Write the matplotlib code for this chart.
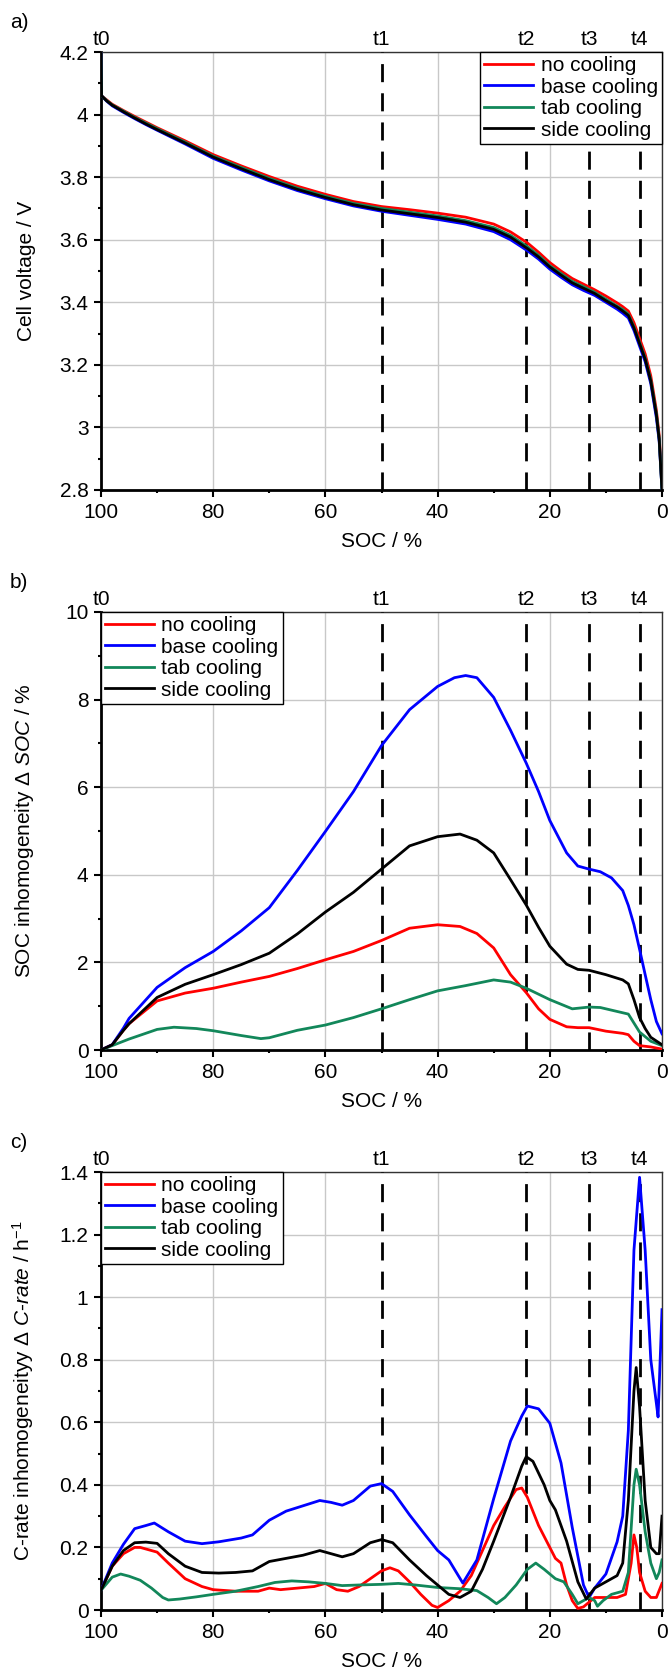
import matplotlib
matplotlib.use("Agg")
import matplotlib.pyplot as plt
from matplotlib.ticker import MultipleLocator, FuncFormatter

plt.rcParams['font.family'] = ['Liberation Sans', 'DejaVu Sans']
plt.rcParams['mathtext.fontset'] = 'custom'
plt.rcParams['mathtext.rm'] = 'Liberation Sans'
plt.rcParams['mathtext.it'] = 'Liberation Sans:italic'
plt.rcParams['mathtext.bf'] = 'Liberation Sans:bold'

# ---------------- data ----------------
series_names = ["no cooling", "base cooling", "tab cooling", "side cooling"]
series_colors = ["#ff0000", "#0000ff", "#12875a", "#000000"]

t_labels = ["t0", "t1", "t2", "t3", "t4"]
t_soc = [100, 50, 24.2, 13, 4]

# panel a: cell voltage
soc_a = [100, 99.9, 99, 98, 96, 94, 92, 90, 85, 80, 75, 70, 65, 60, 55, 50, 45, 40,
         35, 30, 27, 24, 22, 20, 18, 16, 14, 12, 10, 8, 7, 6, 5, 4, 3, 2, 1, 0.5, 0]
v_no = [4.20, 4.06, 4.047, 4.033, 4.013, 3.994, 3.976, 3.958, 3.916, 3.872, 3.836, 3.802,
        3.771, 3.745, 3.722, 3.706, 3.696, 3.685, 3.672, 3.650, 3.625, 3.590, 3.560, 3.527,
        3.500, 3.476, 3.458, 3.440, 3.420, 3.398, 3.386, 3.372, 3.335, 3.285, 3.235, 3.165,
        3.055, 2.975, 2.81]
v_base = [4.20, 4.06, 4.043, 4.028, 4.007, 3.987, 3.968, 3.950, 3.906, 3.860, 3.823, 3.788,
          3.757, 3.731, 3.708, 3.691, 3.678, 3.665, 3.650, 3.626, 3.600, 3.565, 3.538, 3.506,
          3.480, 3.456, 3.438, 3.422, 3.400, 3.378, 3.365, 3.350, 3.310, 3.260, 3.210, 3.140,
          3.030, 2.955, 2.80]
v_tab = [4.20, 4.06, 4.045, 4.031, 4.011, 3.991, 3.973, 3.955, 3.912, 3.867, 3.831, 3.796,
         3.765, 3.739, 3.716, 3.700, 3.688, 3.676, 3.661, 3.639, 3.614, 3.578, 3.550, 3.517,
         3.492, 3.467, 3.450, 3.432, 3.410, 3.388, 3.377, 3.362, 3.322, 3.272, 3.222, 3.152,
         3.045, 2.965, 2.80]
v_side = [4.20, 4.06, 4.044, 4.030, 4.009, 3.989, 3.970, 3.952, 3.909, 3.864, 3.827, 3.792,
          3.761, 3.735, 3.712, 3.695, 3.683, 3.671, 3.656, 3.633, 3.608, 3.572, 3.545, 3.513,
          3.487, 3.462, 3.445, 3.428, 3.405, 3.385, 3.372, 3.358, 3.318, 3.268, 3.218, 3.148,
          3.040, 2.962, 2.80]

# panel b: SOC inhomogeneity
soc_b_no = [100, 98, 96, 95, 90, 85, 80, 75, 70, 65, 60, 55, 50, 45, 40, 36, 33, 30, 27,
            24.2, 22, 20, 17, 15, 13, 10, 7, 6, 5, 4, 2, 0]
dsoc_no = [0, 0.12, 0.45, 0.6, 1.12, 1.3, 1.41, 1.55, 1.68, 1.86, 2.06, 2.25, 2.5, 2.78,
           2.86, 2.82, 2.66, 2.33, 1.72, 1.31, 0.94, 0.70, 0.53, 0.51, 0.51, 0.43, 0.38,
           0.35, 0.2, 0.1, 0.07, 0.02]
soc_b_base = [100, 98, 96, 95, 90, 85, 80, 75, 70, 65, 60, 55, 50, 45, 40, 37, 35, 33, 30,
              27, 24.2, 22, 20, 17, 15, 13, 11, 9, 7, 6, 5, 4, 3, 2, 1, 0]
dsoc_base = [0, 0.12, 0.5, 0.72, 1.43, 1.88, 2.25, 2.72, 3.25, 4.1, 4.99, 5.9, 6.95, 7.77,
             8.3, 8.5, 8.55, 8.5, 8.05, 7.3, 6.55, 5.9, 5.24, 4.5, 4.2, 4.13, 4.07, 3.93,
             3.64, 3.3, 2.86, 2.3, 1.72, 1.15, 0.65, 0.37]
soc_b_tab = [100, 95, 90, 87, 83, 80, 75, 71.5, 70, 65, 60, 55, 50, 45, 40, 35, 30, 27,
             24.2, 20, 16, 13, 11, 8, 6, 4, 2, 0]
dsoc_tab = [0, 0.25, 0.47, 0.52, 0.49, 0.44, 0.33, 0.26, 0.28, 0.45, 0.57, 0.74, 0.94, 1.15,
            1.35, 1.47, 1.6, 1.55, 1.41, 1.15, 0.94, 0.98, 0.97, 0.88, 0.82, 0.41, 0.2, 0.1]
soc_b_side = [100, 98, 96, 95, 90, 85, 80, 75, 70, 65, 60, 55, 50, 45, 40, 36, 33, 30, 27,
              24.2, 22, 20, 17, 15, 13, 10, 7, 6, 5, 4, 3, 2, 0]
dsoc_side = [0, 0.12, 0.45, 0.6, 1.2, 1.5, 1.72, 1.95, 2.21, 2.65, 3.15, 3.6, 4.13, 4.66,
             4.87, 4.93, 4.79, 4.5, 3.89, 3.31, 2.8, 2.37, 1.96, 1.84, 1.82, 1.72, 1.6, 1.51,
             1.15, 0.74, 0.49, 0.29, 0.12]

# panel c: C-rate inhomogeneity
soc_c_no = [100, 98, 96, 94, 93, 90, 88, 85, 82, 80, 76, 72, 70, 68, 65, 62, 60, 58, 56,
            54, 52, 50, 48.5, 47, 45, 43, 41, 40, 38, 36, 34, 32, 30, 28, 26, 25, 24, 22,
            20, 19, 18, 17, 16, 15, 14, 13, 12, 10, 8, 6.5, 5.5, 5, 4.5, 4, 3, 2, 1, 0]
dc_no = [0.063, 0.14, 0.18, 0.2, 0.2, 0.185, 0.15, 0.1, 0.075, 0.065, 0.06, 0.06, 0.07,
         0.065, 0.07, 0.075, 0.085, 0.065, 0.06, 0.075, 0.1, 0.125, 0.135, 0.125, 0.09,
         0.05, 0.015, 0.008, 0.03, 0.06, 0.11, 0.19, 0.27, 0.33, 0.385, 0.39, 0.36, 0.27,
         0.2, 0.165, 0.15, 0.08, 0.03, 0.005, 0.01, 0.025, 0.04, 0.04, 0.04, 0.05, 0.15,
         0.24, 0.2, 0.12, 0.06, 0.04, 0.04, 0.085]
soc_c_base = [100, 98, 96, 94, 92, 90.5, 88, 85, 82, 79, 75, 73, 70, 67, 64, 61, 59, 57,
              55, 52, 50, 48, 45, 42, 40, 38, 35.5, 33, 30, 27, 25, 24, 22, 20, 18, 16, 14,
              13, 12, 10, 8, 7, 6, 5, 4, 3, 2, 1, 0.7, 0]
dc_base = [0.063, 0.15, 0.21, 0.26, 0.27, 0.278, 0.25, 0.22, 0.212, 0.218, 0.23, 0.24,
           0.287, 0.316, 0.333, 0.35, 0.344, 0.335, 0.35, 0.396, 0.404, 0.379, 0.304, 0.235,
           0.19, 0.16, 0.086, 0.16, 0.356, 0.54, 0.62, 0.652, 0.643, 0.597, 0.47, 0.264,
           0.08, 0.04, 0.07, 0.115, 0.218, 0.3, 0.574, 1.15, 1.383, 1.15, 0.80, 0.66, 0.617,
           0.96]
soc_c_tab = [100, 98, 96.5, 95, 93, 91, 89, 88, 86, 83, 80, 76, 72, 69, 66, 63, 60, 57,
             54, 50, 47, 44, 40, 36, 33, 31, 29.5, 28, 26, 24, 22.5, 21, 19, 17.5, 16, 15,
             14, 13, 12, 11.5, 10.5, 9, 7, 6, 5, 4.6, 4, 3, 2, 1, 0.5, 0]
dc_tab = [0.063, 0.105, 0.115, 0.108, 0.095, 0.07, 0.04, 0.032, 0.035, 0.042, 0.05, 0.06,
          0.075, 0.088, 0.093, 0.09, 0.085, 0.078, 0.08, 0.082, 0.085, 0.08, 0.072, 0.068,
          0.062, 0.04, 0.02, 0.04, 0.08, 0.13, 0.15, 0.13, 0.1, 0.09, 0.05, 0.02, 0.03,
          0.04, 0.03, 0.012, 0.03, 0.05, 0.06, 0.12, 0.4, 0.45, 0.4, 0.25, 0.15, 0.1, 0.12,
          0.16]
soc_c_side = [100, 98, 96, 94, 92, 90, 88, 85, 82, 79, 76, 73, 70, 67, 64, 61, 59, 57, 55,
              52, 50, 48, 45, 42, 40, 38, 36, 34, 32, 30, 27, 25, 24.2, 23, 21, 20, 19, 17,
              15, 13.5, 12, 10, 8, 7, 6, 5, 4.6, 4, 3, 2, 1, 0.5, 0]
dc_side = [0.063, 0.14, 0.19, 0.215, 0.217, 0.213, 0.18, 0.14, 0.12, 0.118, 0.12, 0.125,
           0.155, 0.165, 0.175, 0.19, 0.18, 0.17, 0.18, 0.215, 0.225, 0.215, 0.16, 0.11,
           0.08, 0.05, 0.04, 0.06, 0.13, 0.22, 0.36, 0.46, 0.49, 0.475, 0.40, 0.35, 0.32,
           0.22, 0.09, 0.035, 0.07, 0.09, 0.11, 0.15, 0.35, 0.70, 0.775, 0.65, 0.35, 0.2,
           0.18, 0.18, 0.3]

# ---------------- figure ----------------
FS = 15
W, H = 669, 1670
fig = plt.figure(figsize=(W / 100, H / 100), dpi=100)

left = 101 / W
width = 561 / W
ax_h = 438 / H
tops = [52, 612, 1172]


def fmt(v, pos):
    return "{:g}".format(round(v, 6))


def style(ax, ylim, ymaj, ymin, ylabel, legend_loc):
    ax.set_xlim(100, 0)
    ax.set_ylim(*ylim)
    ax.xaxis.set_major_locator(MultipleLocator(20))
    ax.xaxis.set_minor_locator(MultipleLocator(10))
    ax.yaxis.set_major_locator(MultipleLocator(ymaj))
    ax.yaxis.set_minor_locator(MultipleLocator(ymin))
    ax.yaxis.set_major_formatter(FuncFormatter(fmt))
    ax.xaxis.set_major_formatter(FuncFormatter(fmt))
    ax.grid(True, which='major', color='#c8c8c8', lw=1.0)
    ax.set_axisbelow(True)
    ax.tick_params(which='major', direction='out', length=5, width=1.5,
                   labelsize=FS, pad=4)
    ax.tick_params(which='minor', direction='out', length=2.5, width=1.5)
    for s in ['left', 'bottom']:
        ax.spines[s].set_linewidth(2.0)
        ax.spines[s].set_color('black')
    for s in ['top', 'right']:
        ax.spines[s].set_linewidth(1.0)
        ax.spines[s].set_color('#333333')
    ax.set_xlabel("SOC / %", fontsize=FS)
    ax.xaxis.set_label_coords(0.5, -0.095)
    ax.set_ylabel(ylabel, fontsize=FS)
    ax.yaxis.set_label_coords(-0.115, 0.5)
    for lab, s in zip(t_labels, t_soc):
        if s < 100:
            ax.axvline(s, color='black', lw=2.0, ls=(0, (6.5, 4)), zorder=3)
        ax.annotate(lab, xy=(s, 1.0), xycoords=('data', 'axes fraction'),
                    xytext=(0, 2), textcoords='offset points',
                    ha='center', va='bottom', fontsize=FS)
    leg = ax.legend(loc=legend_loc, fontsize=FS, frameon=True, fancybox=False,
                    borderaxespad=0, handlelength=2.35, handletextpad=0.35,
                    labelspacing=0.12, borderpad=0.2)
    leg.get_frame().set_edgecolor('black')
    leg.get_frame().set_linewidth(1.0)
    leg.get_frame().set_alpha(1)


# panel a
ax1 = fig.add_axes([left, 1 - (tops[0] + 438) / H, width, ax_h])
for y, name, c in zip([v_no, v_base, v_tab, v_side], series_names, series_colors):
    ax1.plot(soc_a, y, color=c, lw=2.0, label=name, zorder=4)
style(ax1, (2.8, 4.2), 0.2, 0.1, "Cell voltage / V", 'upper right')

# panel b
ax2 = fig.add_axes([left, 1 - (tops[1] + 438) / H, width, ax_h])
for x, y, name, c in zip([soc_b_no, soc_b_base, soc_b_tab, soc_b_side],
                         [dsoc_no, dsoc_base, dsoc_tab, dsoc_side],
                         series_names, series_colors):
    ax2.plot(x, y, color=c, lw=2.0, label=name, zorder=4)
style(ax2, (0, 10), 2, 1, r"SOC inhomogeneity $\mathit{\Delta\ SOC}$ / %", 'upper left')

# panel c
ax3 = fig.add_axes([left, 1 - (tops[2] + 438) / H, width, ax_h])
for x, y, name, c in zip([soc_c_no, soc_c_base, soc_c_tab, soc_c_side],
                         [dc_no, dc_base, dc_tab, dc_side],
                         series_names, series_colors):
    ax3.plot(x, y, color=c, lw=2.0, label=name, zorder=4)
style(ax3, (0, 1.4), 0.2, 0.1,
      r"C-rate inhomogeneityy $\mathit{\Delta\ C}$-$\mathit{rate}$ / h$^{-1}$", 'upper left')

for lab, t in zip(["a)", "b)", "c)"], tops):
    fig.text(19 / W, 1 - (t - 30) / H, lab, ha='center', va='center', fontsize=FS)

fig.savefig("out.png", dpi=100)
